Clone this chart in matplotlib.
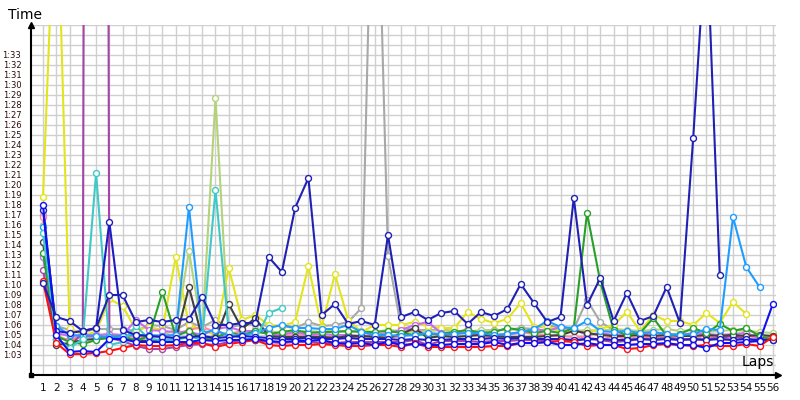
import numpy as np
import matplotlib
matplotlib.use("Agg")
import matplotlib.pyplot as plt

nan = np.nan
laps = np.arange(1, 57)

# lap times in seconds, one list per driver
red = [70.4, 64.2, 63.1, 63.1, 63.2, 63.4, 63.7, 64.0, 63.9, 63.9, 64.0, 64.2, 64.2, 63.8,
       64.1, 64.3, 64.5, 64.0, 63.9, 64.0, 64.0, 64.1, 64.0, 63.9, 63.9, 64.0, 64.0, 63.8,
       64.2, 63.8, 63.8, 63.8, 63.8, 63.8, 63.9, 63.9, 64.2, 64.2, 64.3, 64.4, 64.3, 63.9,
       64.0, 64.0, 63.6, 63.7, 64.0, 64.1, 64.0, 63.9, 64.0, 63.9, 63.9, 64.1, 63.9, 64.8]
blue = [78.0, 65.0, 63.3, 63.4, 63.3, 64.6, 64.6, 64.3, 64.3, 64.3, 64.3, 64.3, 64.5, 64.4,
        64.5, 64.5, 64.6, 64.4, 64.3, 64.4, 64.4, 64.5, 64.2, 64.1, 64.2, 64.0, 64.3, 64.0,
        64.1, 64.0, 64.0, 64.1, 64.1, 64.1, 64.3, 64.0, 64.2, 64.2, 64.3, 64.0, 64.0, 64.2,
        64.0, 64.0, 64.0, 64.1, 64.1, 64.2, 64.0, 64.0, 63.7, 64.2, 64.2, 64.3, 64.4, 68.1]
navy = [70.2, 66.8, 66.4, 65.4, 65.7, 69.0, 69.0, 66.3, 66.5, 66.3, 66.5, 66.6, 68.8, 66.0,
        66.0, 66.2, 66.2, 72.8, 71.3, 77.7, 80.7, 67.0, 68.1, 66.1, 66.4, 66.0, 75.0, 66.8,
        67.3, 66.5, 67.2, 67.4, 66.1, 67.3, 66.9, 67.6, 70.1, 68.2, 66.3, 66.8, 78.7, 68.0,
        70.7, 66.4, 69.2, 66.4, 66.9, 69.8, 66.2, 84.7, 105.6, 71.0, nan, nan, nan, nan]
navy2 = [77.5, 65.4, 65.2, 65.4, 65.7, 76.3, 65.5, 65.0, 64.9, 64.8, 64.7, 64.8, 64.9, 64.7,
         64.8, 64.9, 64.8, 64.7, 64.6, 64.6, 64.7, 64.6, 64.6, 64.7, 64.6, 64.6, 64.6, 64.5,
         64.6, 64.5, 64.5, 64.6, 64.6, 64.6, 64.7, 64.6, 64.7, 64.6, 64.6, 64.6, 64.5, 64.6,
         64.6, 64.5, 64.5, 64.6, 64.5, 64.6, 64.5, 64.6, 64.5, 64.6, 64.5, 64.6, 64.5, 64.5]
cyan = [75.2, 64.6, 63.7, 64.6, 81.2, 64.0, 64.3, 65.9, 64.6, 64.5, 64.5, 64.8, 64.6, 79.5,
        65.3, 64.6, 64.5, 67.2, 67.7] + [nan] * 37
dodger = [75.8, 65.9, 65.0, 64.9, 64.9, 64.8, 64.9, 65.0, 65.0, 64.9, 65.0, 77.8, 65.2, 65.5,
          64.9, 65.0, 65.2, 65.7, 66.0, 65.7, 65.7, 65.6, 65.6, 66.0, 65.3, 65.0, 65.0, 64.9,
          65.0, 65.2, 65.1, 65.1, 65.2, 65.2, 65.0, 65.1, 65.3, 65.6, 66.4, 65.8, 65.7, 66.4,
          65.4, 65.3, 65.4, 65.2, 65.3, 65.1, 65.0, 65.1, 65.6, 65.5, 76.8, 71.8, 69.8, nan]
yellow = [78.8, 113.0, 65.7, 65.0, 65.3, 68.6, 67.9, 65.5, 65.8, 65.5, 72.8, 66.0, 65.5, 65.0,
          71.7, 66.5, 67.0, 66.0, 65.9, 66.3, 71.9, 65.8, 71.1, 66.5, 65.3, 66.0, 66.0, 66.0,
          66.3, 65.9, 65.7, 65.7, 67.3, 66.6, 66.2, 66.6, 68.2, 65.8, 65.9, 65.3, 65.4, 65.2,
          65.6, 66.0, 67.3, 65.4, 67.0, 66.4, 66.4, 66.0, 67.2, 66.2, 68.3, 67.1, nan, nan]
ygreen = [76.0, 65.0, 64.4, 64.9, 64.9, 64.9, 64.9, 64.5, 64.9, 65.0, 65.5, 73.4, 65.3, 88.7,
          65.0, 64.8, 65.6, 65.4, 65.2, 65.3, 65.4, 65.3, 65.5, 65.3, 65.4, 65.3, 65.5, 65.4,
          65.3, 65.4, 65.5, 65.4, 65.3, 65.5, 65.4, 65.6, 65.5, 65.4, 65.6, 65.5, 65.4, 65.5,
          65.4, 65.6, 65.5, 65.4, 65.5, 65.6, 65.4, 65.5, 65.3, 65.4, 65.5, 65.4, 65.3, 65.2]
green = [73.2, 64.9, 64.3, 64.1, 64.5, 64.8, 64.9, 64.4, 64.9, 69.3, 64.9, 65.4, 64.6, 64.8,
         65.2, 65.0, 65.4, 65.1, 65.3, 65.5, 65.2, 65.3, 65.3, 65.4, 65.3, 65.3, 65.4, 65.2,
         65.0, 65.1, 65.1, 65.3, 65.5, 65.2, 65.3, 65.7, 65.5, 65.2, 65.4, 65.2, 65.7, 77.2,
         70.3, 65.5, 65.0, 65.2, 66.7, 64.9, 65.1, 65.7, 65.2, 66.1, 65.4, 65.7, 64.9, 64.5]
dgray = [74.3, 64.0, 64.2, 64.5, 64.6, 64.7, 64.6, 64.5, 64.4, 64.5, 64.5, 69.8, 64.7, 64.6,
         68.1, 65.6, 66.7, 64.9, 64.8, 64.8, 64.8, 64.8, 64.7, 64.9, 64.9, 64.8, 64.7, 65.1,
         65.7, 64.7, 64.9, 64.8, 64.9, 65.0, 64.9, 64.8, 64.8, 64.8, 64.9, 65.0, 65.4, 65.2,
         65.0, 64.9, 64.9, 65.0, 64.9, 65.0, 64.9, 64.9, 65.0, 64.9, 65.0, 64.9, 65.0, 64.9]
gray = [77.0, 65.9, 65.5, 65.3, 65.6, 65.6, 65.6, 65.4, 66.0, 65.9, 65.5, 66.3, 65.8, 66.5,
        65.8, 66.0, 66.1, 65.9, 65.9, 65.7, 66.3, 65.9, 66.0, 66.3, 67.7, 123.0, 72.9, 65.7,
        65.5, 65.5, 65.5, 65.4, 65.4, 65.4, 65.5, 65.5, 65.7, 65.6, 66.0, 65.7, 65.6, 68.5,
        66.3, 65.5, 65.4] + [nan] * 11
violet = [72.8, 65.2, 64.9, 65.0, 65.0, 65.1, 65.0, 66.5, 65.5, 65.4, 65.3, 65.3, 65.0, 65.6,
          65.8, 65.4, 65.4, 65.1, 65.0, 65.3, 65.0, 65.1, 65.0, 65.0, 64.9, 65.0, 65.2, 65.5,
          66.0, 66.3, 65.2, 65.2, 65.2, 65.0, 65.0, 65.1, 65.2, 65.6, 65.4, 65.8, 65.6, 65.0,
          65.2, 65.0, 65.1, 65.0, 65.2, 65.1, 65.0, 65.2, 65.1, 65.0, 65.1, 65.2, 64.7, 64.6]
purple = [71.5, 64.5, 63.9, 65.2, 600.0, 64.7, 64.4, 63.9, 63.6, 63.6, 63.8, 64.0, 64.1, 64.0,
          64.3, 64.5, 64.5, 64.3, 64.2, 64.3, 64.3, 64.2, 64.2, 64.3, 64.3, 64.3, 64.3, 64.3,
          64.5, 64.0, 64.4, 64.4, 64.4, 64.3, 64.4, 64.4, 64.5, 64.5, 64.5, 64.6, 64.4, 64.6,
          64.5, 64.3, 64.4, 64.6, 64.6, 64.7, 64.6, 64.5, 64.6, 64.7, 64.9, 64.6, 64.4, 64.6]
pink = [76.8, 64.6, 64.6, 64.8, 64.7, 64.8, 64.9, 64.8, 64.8, 64.9, 65.1, 65.5, 65.8, 65.3,
        65.1, 65.4, 65.3, 65.2, 64.9, 65.0, 64.9, 64.8, 64.8, 64.8, 64.8, 64.9, 64.8, 64.8,
        65.8, 64.8, 64.9, 64.9, 65.7, 64.9, 64.8, 65.0, 65.3, 65.1, 65.0, 64.9, 64.8, 64.8,
        64.5, 64.9, 64.6, 64.8, 64.7, 64.8, 64.6, 64.6, 65.0, 64.5, 64.6, 65.0, 64.6, 64.9]

series = [
    (gray, '#a8a8a8'), (ygreen, '#b4d27a'), (yellow, '#e4e41c'), (pink, '#ff88a8'),
    (violet, '#c86cf4'), (purple, '#a444a8'), (dgray, '#404040'), (green, '#28a028'),
    (dodger, '#1e9cff'), (cyan, '#40c8c8'), (navy2, '#1c1cc0'), (red, '#ff1010'),
    (blue, '#1010f0'), (navy, '#2020b4'),
]

fig = plt.figure(figsize=(8, 4), dpi=100)
ax = fig.add_axes([31 / 800, 25 / 400, 745 / 800, 350 / 400])

for vals, col in series:
    ax.plot(laps, vals, color=col, lw=1.5, marker='o', ms=4.3,
            mfc='white', mec=col, mew=1.0)

ax.set_xlim(0.096, 56.24)
ax.set_ylim(61, 96)

ax.set_xticks(laps)
ax.set_xticklabels([str(l) for l in laps], fontsize=7.5, color='#101010')
yt = np.arange(61, 97)
ax.set_yticks(yt)
ax.set_yticklabels(['1:%02d' % (v - 60) if 63 <= v <= 93 else '' for v in yt],
                   fontsize=6, color='#2a0a0a')
ax.tick_params(length=0)
ax.tick_params(axis='x', pad=6)
ax.tick_params(axis='y', pad=7)
ax.grid(True, color='#cfcfcf', lw=1)
ax.set_axisbelow(True)

for s in ['top', 'right']:
    ax.spines[s].set_visible(False)
for s in ['left', 'bottom']:
    ax.spines[s].set_linewidth(1.5)

# arrows on the axes and the black dot at the origin
ax.plot(1.003, 0, '>k', ms=5, transform=ax.transAxes, clip_on=False)
ax.plot(0, 1.0, '^k', ms=5, transform=ax.transAxes, clip_on=False)
ax.plot(0, 0, 'sk', ms=3, transform=ax.transAxes, clip_on=False)

fig.text(8 / 800, 1 - 15 / 400, 'Time', fontsize=10, va='center', ha='left')
fig.text(774 / 800, 1 - 362 / 400, 'Laps', fontsize=10, va='center', ha='right')

fig.savefig('out.png', dpi=100)
